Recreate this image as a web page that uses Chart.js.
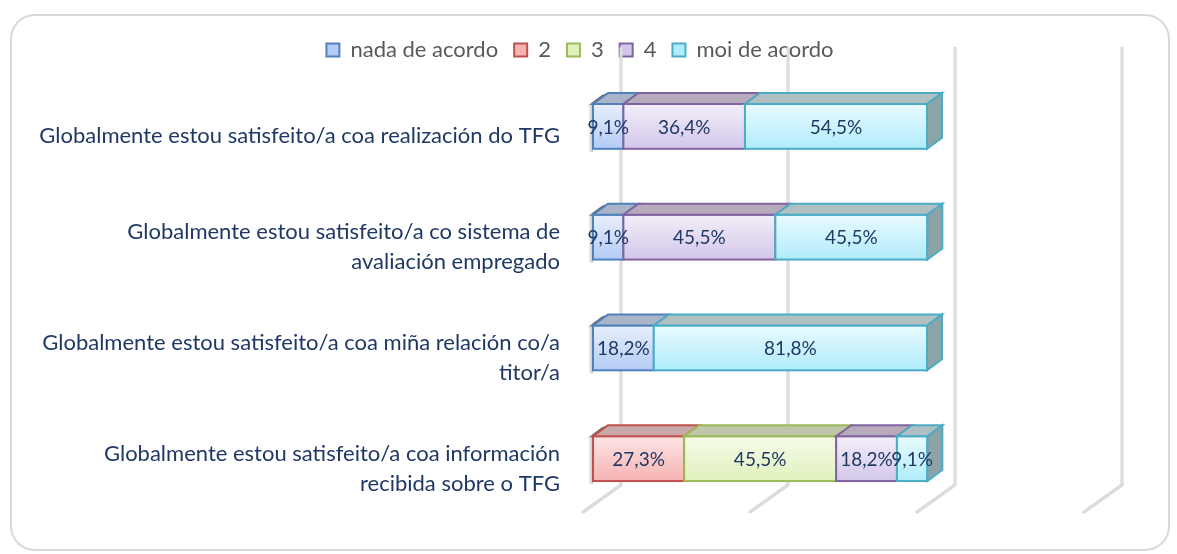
<!DOCTYPE html>
<html>
<head>
<meta charset="utf-8">
<script src="https://cdn.jsdelivr.net/npm/chart.js@4.4.0/dist/chart.umd.min.js"></script>
<style>
html, body { margin: 0; padding: 0; background: #fff; }
#wrap { width: 1177px; height: 554px; position: relative; }
</style>
</head>
<body>
<div id="wrap"><canvas id="myChart" width="1177" height="554"></canvas></div>
<script>
// categories (top to bottom) and series values in %
var categories = [
	'Globalmente estou satisfeito/a coa realización do TFG',
	['Globalmente estou satisfeito/a co sistema de', 'avaliación empregado'],
	['Globalmente estou satisfeito/a coa miña relación co/a', 'titor/a'],
	['Globalmente estou satisfeito/a coa información', 'recibida sobre o TFG']
];
var seriesNames = ['nada de acordo', '2', '3', '4', 'moi de acordo'];
var nadaDeAcordo = [9.1, 9.1, 18.2, 0];
var dous = [0, 0, 0, 27.3];
var tres = [0, 0, 0, 45.5];
var catro = [36.4, 45.5, 0, 18.2];
var moiDeAcordo = [54.5, 45.5, 81.8, 9.1];
var axisTicks = [0, 50, 100, 150];

// styles
var baseColors = ['#b3cbf5', '#f6b3b2', '#e0f1bd', '#d3c6ea', '#b0ecfa'];
var lightColors = ['#e8effc', '#fde4e4', '#f6fbe9', '#f3eff9', '#e8fbff'];
var borderColors = ['#4f81bd', '#c0504d', '#9bbb59', '#8064a2', '#4bacc6'];
var topColors = ['#a9b4c8', '#c9a9a8', '#c0c6a9', '#b7aabb', '#afbfc2'];
var sideColors = ['#8d9bb5', '#b08d8c', '#a4ab8a', '#9b8ea3', '#8ca4a7'];
var textColor = '#1f3864';
var fontName = 'Lato';

var depthX = 15, depthY = 11;

function fmt(v) {
	return v.toFixed(1).replace('.', ',') + '%';
}

var allSeries = [nadaDeAcordo, dous, tres, catro, moiDeAcordo];
var datasets = [];
for (var i = 0; i < allSeries.length; i++) {
	datasets.push({
		label: seriesNames[i],
		data: allSeries[i],
		backgroundColor: baseColors[i],
		borderColor: borderColors[i],
		borderWidth: 2,
		borderSkipped: false,
		categoryPercentage: 1,
		barPercentage: 0.405
	});
}

var bars3d = {
	id: 'bars3d',
	afterLayout: function (chart) {
		// nudge legend to the right like the original
		chart.legend.left += 33;
		chart.legend.right += 33;
	},
	beforeDraw: function (chart) {
		var c = chart.ctx;
		c.save();
		c.strokeStyle = '#d9d9d9';
		c.lineWidth = 2;
		c.beginPath();
		c.roundRect(11, 15, 1158, 535, 24);
		c.stroke();
		c.restore();
	},
	beforeDatasetsDraw: function (chart) {
		var c = chart.ctx;
		var xs = chart.scales.x;
		var a = chart.chartArea;
		c.save();
		for (var i = 0; i < axisTicks.length; i++) {
			var x = xs.getPixelForValue(axisTicks[i]);
			var bx = x + 28, topY = 48, by = a.bottom - 29;
			var fx = x - 10, fy = a.bottom - 2;
			c.lineJoin = 'round';
			c.lineCap = 'round';
			c.strokeStyle = '#cfcfcf';
			c.lineWidth = 3;
			c.beginPath();
			c.moveTo(bx, topY); c.lineTo(bx, by); c.lineTo(fx, fy);
			c.stroke();
			c.strokeStyle = '#eeeeee';
			c.lineWidth = 1;
			c.stroke();
		}
		c.restore();
	},
	afterDatasetsDraw: function (chart) {
		var c = chart.ctx;
		var n = categories.length;
		c.save();
		for (var row = 0; row < n; row++) {
			var last = -1, first = -1;
			for (var d = 0; d < datasets.length; d++) {
				if (allSeries[d][row] > 0) {
					last = d;
					if (first < 0) first = d;
				}
			}
			for (var d = 0; d < datasets.length; d++) {
				if (!(allSeries[d][row] > 0)) continue;
				var el = chart.getDatasetMeta(d).data[row];
				var l = Math.min(el.base, el.x), r = Math.max(el.base, el.x);
				var t = el.y - el.height / 2, b = el.y + el.height / 2;
				// shadow on the left end
				if (d === first) {
					var sg = c.createLinearGradient(l - 6, 0, l, 0);
					sg.addColorStop(0, 'rgba(0,0,0,0)');
					sg.addColorStop(1, 'rgba(0,0,0,0.6)');
					c.fillStyle = sg;
					c.beginPath();
					c.moveTo(l - 6, t + 2); c.lineTo(l + depthX - 6, t - depthY + 2);
					c.lineTo(l + depthX, t - depthY); c.lineTo(l, t);
					c.closePath();
					c.fill();
					var sg2 = c.createLinearGradient(l - 5, 0, l, 0);
					sg2.addColorStop(0, 'rgba(0,0,0,0)');
					sg2.addColorStop(1, 'rgba(0,0,0,0.25)');
					c.fillStyle = sg2;
					c.fillRect(l - 5, t, 5, b - t + 3);
				}
				// front face gradient
				var g = c.createLinearGradient(0, t, 0, b);
				g.addColorStop(0, lightColors[d]);
				g.addColorStop(1, baseColors[d]);
				c.fillStyle = g;
				c.fillRect(l, t, r - l, b - t);
				c.strokeStyle = borderColors[d];
				c.lineWidth = 2;
				c.strokeRect(l, t, r - l, b - t);
				// top face
				c.beginPath();
				c.moveTo(l, t); c.lineTo(r, t);
				c.lineTo(r + depthX, t - depthY); c.lineTo(l + depthX, t - depthY);
				c.closePath();
				c.fillStyle = topColors[d];
				c.fill();
				c.stroke();
				// side face on the end of the bar
				if (d === last) {
					c.beginPath();
					c.moveTo(r, t); c.lineTo(r + depthX, t - depthY);
					c.lineTo(r + depthX, b - depthY); c.lineTo(r, b);
					c.closePath();
					c.fillStyle = sideColors[d];
					c.fill();
					c.stroke();
				}
			}
		}
		// data labels
		c.fillStyle = textColor;
		c.font = '19px ' + fontName;
		c.textAlign = 'center';
		c.textBaseline = 'middle';
		for (var d = 0; d < datasets.length; d++) {
			var meta = chart.getDatasetMeta(d);
			for (var row = 0; row < n; row++) {
				var v = allSeries[d][row];
				if (!(v > 0)) continue;
				var el = meta.data[row];
				c.fillText(fmt(v), (el.base + el.x) / 2, el.y + 1);
			}
		}
		c.restore();
	}
};

var ctx = document.getElementById('myChart');
var myChart = new Chart(ctx, {
	type: 'bar',
	data: { labels: categories, datasets: datasets },
	options: {
		indexAxis: 'y',
		responsive: false,
		animation: false,
		layout: { padding: { left: 0, right: 83, top: 23, bottom: 40 } },
		scales: {
			x: {
				stacked: true, min: 0, max: 150, display: false
			},
			y: {
				stacked: true,
				grid: { display: false, drawTicks: false },
				border: { display: false },
				ticks: {
					color: textColor,
					padding: 33,
					labelOffset: 10,
					font: { family: fontName, size: 22, lineHeight: 1.36 }
				},
				afterFit: function (scale) {
					scale.width = 593;
					scale.paddingTop = 0;
					scale.paddingBottom = 0;
				}
			}
		},
		plugins: {
			legend: {
				position: 'top',
				labels: {
					boxWidth: 13,
					boxHeight: 13,
					padding: 16,
					color: '#595959',
					font: { family: fontName, size: 22 }
				}
			},
			tooltip: { enabled: false }
		}
	},
	plugins: [bars3d]
});
</script>
</body>
</html>
